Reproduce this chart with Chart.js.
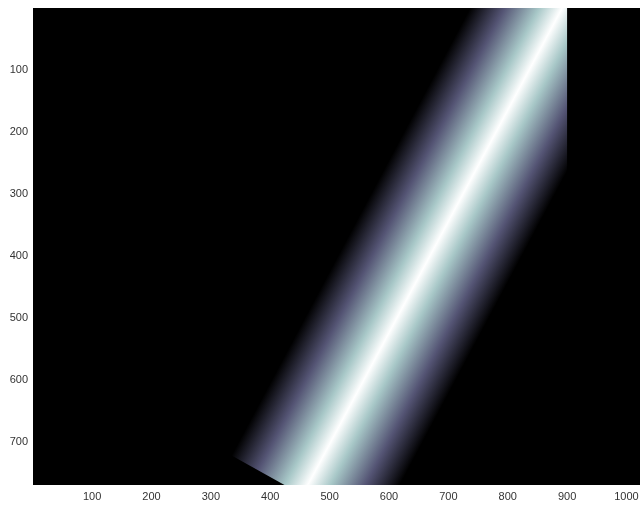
<!DOCTYPE html>
<html>
<head>
<meta charset="utf-8">
<script src="https://cdn.jsdelivr.net/npm/chart.js@4.4.0/dist/chart.umd.min.js"></script>
<style>
  html, body { margin: 0; padding: 0; background: #fff; overflow: hidden; }
  #wrap { width: 650px; height: 506px; }
</style>
</head>
<body>
<div id="wrap"><canvas id="img" width="650" height="506"></canvas></div>
<script>
// image size (columns x rows), axis ticks
const nCols = 1024;
const nRows = 768;
const xTicks = [100, 200, 300, 400, 500, 600, 700, 800, 900, 1000];
const yTicks = [100, 200, 300, 400, 500, 600, 700];

// bright ridge: column of the peak at the first and last row
const ridgeRows = [0, 769];
const ridgeCols = [892, 463];
const ridgeHalfWidth = 155; // columns from peak to black

// outline of the lit area (cut at col 900 on top, diagonal cut bottom-left)
const bandCols = [737, 900, 900, 618, 425, 335];
const bandRows = [0, 0, 263, 769, 769, 721];

// bone colormap
const cmapPos = [0, 0.375, 0.75, 1];
const cmapColors = ['#000000', '#545474', '#a7c7c7', '#ffffff'];

function ridgeGradient(context) {
  const chart = context.chart;
  const area = chart.chartArea;
  if (!area) return '#000';
  const xs = chart.scales.x, ys = chart.scales.y;
  const x0 = xs.getPixelForValue(ridgeCols[0]), y0 = ys.getPixelForValue(ridgeRows[0]);
  const x1 = xs.getPixelForValue(ridgeCols[1]), y1 = ys.getPixelForValue(ridgeRows[1]);
  const len = Math.hypot(x1 - x0, y1 - y0);
  const nx = (y1 - y0) / len, ny = -(x1 - x0) / len;
  const hw = xs.getPixelForValue(ridgeCols[0] + ridgeHalfWidth) - x0;
  const w = hw * Math.abs(nx);
  const g = chart.ctx.createLinearGradient(x0 - nx * w, y0 - ny * w, x0 + nx * w, y0 + ny * w);
  cmapPos.forEach((p, i) => {
    g.addColorStop(p / 2, cmapColors[i]);
    g.addColorStop(1 - p / 2, cmapColors[i]);
  });
  return g;
}

const blackBackground = {
  id: 'blackBackground',
  beforeDatasetsDraw(chart) {
    const a = chart.chartArea;
    chart.ctx.save();
    chart.ctx.fillStyle = '#000';
    chart.ctx.fillRect(a.left, a.top, a.right - a.left, a.bottom - a.top);
    chart.ctx.restore();
  }
};

const tickFont = { family: 'Liberation Sans', size: 11 };

new Chart(document.getElementById('img'), {
  type: 'line',
  data: {
    datasets: [{
      data: bandCols.map((c, i) => ({ x: c, y: bandRows[i] })),
      fill: 'shape',
      backgroundColor: ridgeGradient,
      borderWidth: 0,
      pointRadius: 0,
      tension: 0
    }]
  },
  options: {
    responsive: false,
    animation: false,
    devicePixelRatio: 1,
    layout: { padding: { top: 8, right: 9, bottom: 0, left: 0 } },
    plugins: { legend: { display: false }, tooltip: { enabled: false } },
    scales: {
      x: {
        type: 'linear',
        min: 0.5,
        max: nCols + 0.5,
        grid: { display: false, drawTicks: false },
        border: { display: false },
        ticks: { font: tickFont, color: '#333', padding: 5, maxRotation: 0, callback: v => String(v) },
        afterBuildTicks: s => { s.ticks = xTicks.map(v => ({ value: v })); },
        afterFit: s => { s.height = 21; s.paddingLeft = 0; s.paddingRight = 0; }
      },
      y: {
        type: 'linear',
        reverse: true,
        min: 0.5,
        max: nRows + 0.5,
        grid: { display: false, drawTicks: false },
        border: { display: false },
        ticks: { font: tickFont, color: '#333', padding: 5, callback: v => String(v) },
        afterBuildTicks: s => { s.ticks = yTicks.map(v => ({ value: v })); },
        afterFit: s => { s.width = 33; s.paddingTop = 0; s.paddingBottom = 0; }
      }
    }
  },
  plugins: [blackBackground]
});
</script>
</body>
</html>
